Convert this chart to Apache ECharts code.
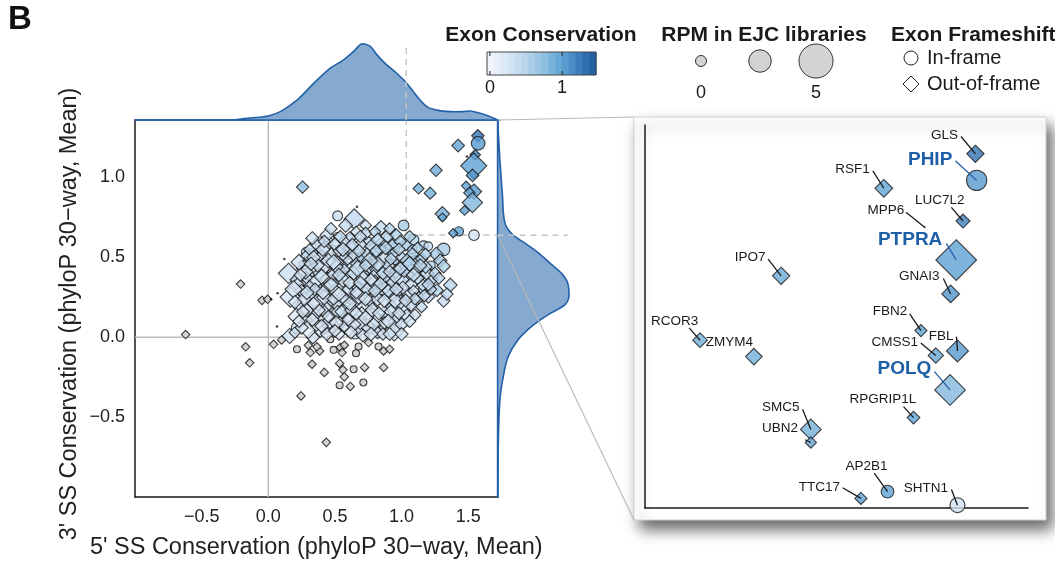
<!DOCTYPE html>
<html><head><meta charset="utf-8">
<script src="https://cdn.jsdelivr.net/npm/echarts@6/dist/echarts.min.js"></script>
<style>html,body{margin:0;padding:0;background:#fff}#c{width:1055px;height:565px}</style>
</head><body><div id="c"></div>
<script>
// ---------------- DATA ----------------
const xAxisRange = [-1.0, 1.72];
const yAxisRange = [-1.0, 1.36];
const zoomBox = { x: 1.035, y: 0.64 };
const insetRange = { x: [1.038, 1.657], y: [0.634, 1.312] };
const consRange = [-0.05, 1.5];
const consColors = ['#f5f8fd','#dce9f6','#bdd7ed','#93c2e1','#62a4d4','#3a7dbd','#1a5497'];
const consLegendTicks = [0, 1];
const rpmLegend = [0, 2.5, 5];
const rpmLegendLabels = ['0', '', '5'];
const xTitle = "5' SS Conservation (phyloP 30\u2212way, Mean)";
const yTitle = "3' SS Conservation (phyloP 30\u2212way, Mean)";

// highlighted exons: [gene, 5'SS, 3'SS, RPM, exon conservation, frame]
const highlightExons = [
  ['GLS',      1.572, 1.261, 1.25, 1.30, 'out'],
  ['PHIP',     1.574, 1.214, 2.92, 1.05, 'in'],
  ['RSF1',     1.424, 1.200, 1.32, 0.98, 'out'],
  ['LUC7L2',   1.552, 1.142, 0.71, 1.22, 'out'],
  ['MPP6',     1.490, 1.131, null, null, 'na'],
  ['PTPRA',    1.541, 1.073, 5.12, 1.00, 'out'],
  ['GNAI3',    1.532, 1.013, 1.32, 1.08, 'out'],
  ['IPO7',     1.258, 1.045, 1.25, 0.92, 'out'],
  ['FBN2',     1.484, 0.948, 0.38, 1.00, 'out'],
  ['FBL',      1.543, 0.912, 2.03, 1.05, 'out'],
  ['CMSS1',    1.508, 0.904, 0.92, 0.95, 'out'],
  ['RCOR3',    1.127, 0.931, 0.82, 0.90, 'out'],
  ['ZMYM4',    1.214, 0.902, 1.15, 0.90, 'out'],
  ['POLQ',     1.531, 0.843, 3.47, 0.82, 'out'],
  ['RPGRIP1L', 1.472, 0.794, 0.49, 1.00, 'out'],
  ['SMC5',     1.306, 0.773, 1.82, 0.88, 'out'],
  ['UBN2',     1.306, 0.750, 0.26, 0.95, 'out'],
  ['AP2B1',    1.430, 0.663, 1.23, 1.00, 'in'],
  ['TTC17',    1.387, 0.651, 0.38, 1.00, 'out'],
  ['SHTN1',    1.543, 0.639, 1.74, 0.30, 'in']
];
const keyGenes = ['PHIP', 'PTPRA', 'POLQ'];

// in-frame exons: [5'SS, 3'SS, RPM, conservation]
const cloudInFrame = [
  [0.52,0.76,1.5,0.35],[0.52,0.63,0.8,0.3],[1.015,0.70,1.8,0.6],[1.09,0.61,1.8,0.55],[1.165,0.575,1.2,0.5],
  [1.2,0.57,1.0,0.4],[1.315,0.55,2.5,0.6],[0.283,0.533,1.3,0.5],[0.34,0.533,0.8,0.4],[0.215,0.06,2.0,0.25],
  [0.45,0.40,2.2,0.2],[0.62,0.30,2.8,0.15],[0.70,0.45,1.5,0.3],[0.80,0.50,2.0,0.35],[0.88,0.42,1.7,0.3],
  [0.95,0.56,1.4,0.4],[0.97,0.30,2.3,0.3],[1.05,0.38,1.6,0.5],[1.12,0.26,1.2,0.35],[0.40,0.18,1.6,0.2],
  [0.55,0.12,2.2,0.2],[0.72,0.10,1.5,0.3],[0.86,0.15,2.0,0.25],[0.30,0.30,1.0,0.3],[0.60,0.52,1.2,0.45],
  [0.75,0.60,1.0,0.4],[0.90,0.62,1.2,0.5],[0.38,0.60,1.3,0.35],[0.48,0.55,0.9,0.3],[0.66,0.20,1.8,0.25],
  [0.80,0.25,2.4,0.2],[1.00,0.45,2.2,0.45],[1.10,0.48,1.5,0.5],[0.53,0.30,1.1,0.3],[0.35,0.42,2.0,0.2],
  [0.25,0.22,1.0,0.25],[0.42,0.05,1.2,0.2],[0.65,0.02,1.5,0.25],[0.92,0.05,1.0,0.3],[1.18,0.36,1.3,0.5],
  [0.58,0.44,1.7,0.35],[0.85,0.35,1.0,0.3],[0.74,0.36,2.6,0.25],[0.47,0.25,1.4,0.25],[1.02,0.18,1.8,0.3],
  [0.62,0.62,1.0,0.4],[0.95,0.48,0.8,0.45],[1.22,0.45,1.0,0.55],[0.32,0.08,0.8,0.2],[0.77,0.05,1.3,0.3],
  [0.37,0.26,1.5,0.25],[0.50,0.20,1.9,0.25],[0.61,0.40,1.5,0.3],[0.78,0.41,2.0,0.35],[0.92,0.36,1.4,0.4],
  [0.45,0.60,1.1,0.35],[0.69,0.50,1.8,0.45],[0.84,0.56,1.5,0.45],[0.27,0.35,1.2,0.3],[0.33,0.15,1.4,0.25],
  [0.58,0.08,1.3,0.25],[0.83,0.07,1.6,0.3],[1.08,0.55,1.3,0.55],[0.97,0.10,1.2,0.3],[0.74,0.20,1.6,0.25],
  [1.16,0.30,1.1,0.4]
];

// out-of-frame exons: [5'SS, 3'SS, RPM, conservation]
const cloudOutFrame = [
  [0.645,0.74,3.5,0.45],[0.845,0.685,1.8,0.4],[0.73,0.70,1.0,0.35],[0.257,0.94,1.2,0.75],
  [0.44,0.64,1.6,0.3],[0.61,0.62,1.4,0.35],[0.73,0.65,1.3,0.45],[0.89,0.63,1.5,0.4],[0.80,0.66,1.0,0.5],[0.96,0.64,1.2,0.55],[0.66,0.66,0.9,0.3],
  [0.36,0.58,1.2,0.3],[0.50,0.58,1.6,0.35],[0.57,0.60,1.0,0.3],[0.69,0.58,1.5,0.4],[0.78,0.57,2.0,0.5],[0.85,0.59,1.2,0.45],[0.93,0.57,1.8,0.55],[1.03,0.58,1.3,0.6],[1.12,0.56,1.0,0.55],[1.26,0.52,1.7,0.6],[0.43,0.56,1.3,0.3],[0.62,0.56,1.9,0.4],
  [0.29,0.51,1.3,0.35],[0.40,0.50,2.0,0.35],[0.47,0.52,1.5,0.3],[0.55,0.50,2.5,0.4],[0.64,0.51,1.3,0.35],[0.71,0.49,2.2,0.55],[0.79,0.52,1.6,0.45],[0.87,0.50,2.0,0.4],[0.94,0.52,1.4,0.5],[1.00,0.50,1.1,0.45],[1.08,0.52,1.4,0.55],[1.15,0.49,1.2,0.6],[1.29,0.48,1.5,0.6],[1.315,0.445,1.5,0.55],[0.35,0.47,1.2,0.3],[0.60,0.47,1.6,0.35],
  [0.152,0.40,3.5,0.35],[0.215,0.36,1.6,0.4],[0.26,0.43,1.4,0.35],[0.33,0.42,1.8,0.3],[0.41,0.44,2.8,0.25],[0.49,0.41,1.4,0.3],[0.54,0.45,2.0,0.35],[0.63,0.43,2.3,0.3],[0.69,0.40,3.0,0.5],[0.76,0.44,1.6,0.4],[0.83,0.42,2.6,0.35],[0.90,0.45,1.5,0.4],[0.97,0.41,2.0,0.45],[1.04,0.44,1.8,0.35],[1.11,0.42,1.2,0.45],[1.19,0.40,1.6,0.4],[0.58,0.38,1.2,0.3],[0.79,0.38,1.5,0.35],
  [0.22,0.33,1.5,0.3],[0.29,0.37,1.2,0.35],[0.36,0.35,2.2,0.3],[0.44,0.36,1.7,0.4],[0.51,0.34,3.0,0.25],[0.59,0.33,1.6,0.4],[0.66,0.36,2.0,0.3],[0.72,0.33,1.4,0.35],[0.80,0.34,2.2,0.35],[0.87,0.37,1.8,0.45],[0.93,0.34,1.5,0.4],[1.00,0.36,2.0,0.35],[1.07,0.33,1.5,0.4],[1.16,0.325,1.2,0.4],[1.365,0.327,1.6,0.5],[1.23,0.36,1.0,0.45],[0.48,0.39,1.0,0.3],
  [0.165,0.252,3.5,0.25],[0.25,0.29,1.4,0.3],[0.32,0.26,2.0,0.35],[0.39,0.29,1.5,0.25],[0.46,0.27,2.4,0.3],[0.55,0.28,4.5,0.2],[0.63,0.26,1.8,0.35],[0.70,0.29,2.0,0.3],[0.77,0.27,1.5,0.25],[0.84,0.29,2.3,0.35],[0.91,0.26,1.7,0.3],[0.98,0.28,1.2,0.4],[1.05,0.27,1.6,0.35],[1.13,0.248,1.3,0.3],[1.2,0.254,1.4,0.45],[1.265,0.294,1.3,0.55],[1.315,0.227,1.3,0.4],[0.60,0.30,1.2,0.3],
  [0.24,0.186,1.7,0.3],[0.31,0.20,1.2,0.25],[0.37,0.22,2.6,0.2],[0.44,0.19,1.6,0.3],[0.51,0.21,1.8,0.35],[0.58,0.18,2.2,0.25],[0.65,0.22,1.5,0.3],[0.72,0.19,2.4,0.2],[0.79,0.21,1.3,0.3],[0.85,0.20,4.0,0.2],[0.93,0.19,1.5,0.35],[0.99,0.22,1.8,0.3],[1.07,0.20,1.2,0.35],[1.15,0.19,1.0,0.4],[0.47,0.23,1.0,0.25],
  [0.28,0.12,1.5,0.25],[0.35,0.14,1.8,0.3],[0.41,0.11,1.2,0.2],[0.48,0.14,2.0,0.25],[0.55,0.10,1.4,0.3],[0.61,0.13,2.8,0.2],[0.68,0.12,1.6,0.25],[0.75,0.14,1.3,0.3],[0.81,0.11,2.0,0.25],[0.89,0.13,1.5,0.3],[0.96,0.12,1.3,0.35],[1.04,0.133,1.7,0.3],[0.52,0.16,1.3,0.3],
  [0.16,0.008,2.0,0.25],[0.335,0.0,1.5,0.25],[0.30,0.05,3.0,0.15],[0.39,0.04,1.3,0.2],[0.47,0.06,1.5,0.25],[0.53,0.02,1.2,0.2],[0.60,0.05,2.0,0.2],[0.68,0.04,1.3,0.3],[0.74,0.07,1.8,0.25],[0.82,0.03,1.2,0.3],[0.88,0.06,1.5,0.25],[0.945,0.04,3.5,0.3],[0.20,0.03,1.0,0.3],
  [0.57,0.42,1.3,0.35],[0.66,0.46,1.1,0.4],[0.74,0.52,1.3,0.45],[0.82,0.46,1.9,0.4],[0.53,0.54,1.1,0.3],[0.44,0.31,1.3,0.3],[0.38,0.40,1.1,0.25],[0.62,0.37,3.2,0.3],[0.88,0.31,1.2,0.35],[0.95,0.23,2.2,0.3],
  [0.70,0.15,1.4,0.25],[0.31,0.32,1.0,0.3],[0.27,0.46,1.1,0.35],[0.52,0.47,1.2,0.3],[0.67,0.31,1.1,0.3],[0.76,0.23,1.3,0.25],[0.84,0.55,1.0,0.5],[1.02,0.41,1.0,0.5],[1.09,0.29,1.0,0.35],[0.42,0.16,1.1,0.25],
  [0.33,0.62,1.4,0.3],[0.47,0.68,1.2,0.35],[0.58,0.70,1.6,0.4],[0.91,0.68,1.0,0.5],[1.06,0.63,1.2,0.55],
  [0.23,0.47,2.2,0.3],[0.31,0.55,1.0,0.4],[0.45,0.48,1.8,0.3],[0.51,0.44,1.6,0.35],[0.68,0.54,1.4,0.4],[0.76,0.48,2.3,0.45],[0.92,0.49,1.2,0.45],[1.04,0.48,1.6,0.5],[1.18,0.52,1.1,0.55],
  [0.19,0.30,2.6,0.25],[0.28,0.41,1.9,0.3],[0.37,0.45,1.5,0.3],[0.56,0.36,2.0,0.3],[0.64,0.40,1.6,0.35],[0.71,0.37,1.9,0.3],[0.86,0.40,1.4,0.4],[0.95,0.38,1.6,0.35],[1.12,0.37,1.3,0.45],[1.25,0.40,1.2,0.5],
  [0.27,0.24,1.8,0.25],[0.35,0.30,1.3,0.3],[0.42,0.25,2.0,0.25],[0.50,0.29,1.6,0.3],[0.57,0.24,1.4,0.35],[0.68,0.26,2.6,0.3],[0.74,0.30,1.5,0.35],[0.82,0.24,1.8,0.3],[0.90,0.29,1.4,0.4],[1.01,0.31,1.5,0.35],[1.10,0.24,1.2,0.4],[1.22,0.30,1.0,0.45],
  [0.21,0.13,2.4,0.2],[0.29,0.17,1.6,0.25],[0.38,0.17,1.3,0.25],[0.46,0.10,1.9,0.2],[0.55,0.16,1.5,0.3],[0.63,0.17,2.0,0.25],[0.69,0.09,1.5,0.25],[0.78,0.17,1.9,0.3],[0.87,0.09,1.3,0.3],[0.92,0.16,1.6,0.3],[1.00,0.08,1.4,0.3],[1.10,0.14,1.1,0.35],
  [0.25,0.06,1.4,0.2],[0.36,0.08,1.6,0.25],[0.44,0.02,1.4,0.25],[0.57,0.07,1.2,0.25],[0.64,0.08,1.8,0.2],[0.71,0.01,1.3,0.25],[0.79,0.08,1.5,0.3],[0.86,0.02,1.2,0.25],[1.00,0.02,1.4,0.3],
  [0.41,0.55,1.7,0.35],[0.54,0.63,1.3,0.4],[0.69,0.63,1.2,0.4],[0.82,0.61,1.5,0.45],[0.99,0.60,1.2,0.55],[1.18,0.44,1.4,0.5],[1.28,0.37,1.1,0.5],[1.34,0.27,1.2,0.45],
  [0.34,0.50,1.6,0.3],[0.42,0.60,1.2,0.35],[0.49,0.47,2.1,0.3],[0.56,0.55,1.7,0.4],[0.63,0.58,1.3,0.4],[0.67,0.43,2.4,0.35],[0.73,0.45,1.2,0.4],[0.81,0.54,1.4,0.45],[0.88,0.56,1.6,0.5],[0.98,0.55,1.3,0.5],[1.06,0.46,1.9,0.5],[1.14,0.45,1.4,0.5],
  [0.24,0.39,1.3,0.3],[0.32,0.46,1.5,0.35],[0.40,0.38,2.0,0.3],[0.47,0.33,1.7,0.3],[0.53,0.39,1.5,0.35],[0.61,0.34,1.4,0.3],[0.69,0.34,1.6,0.35],[0.77,0.36,1.3,0.3],[0.84,0.33,1.9,0.4],[0.91,0.41,1.3,0.4],[0.99,0.43,1.5,0.45],[1.09,0.39,1.7,0.4],[1.20,0.33,1.3,0.45],
  [0.20,0.22,1.5,0.25],[0.29,0.28,1.7,0.3],[0.34,0.21,1.4,0.25],[0.41,0.28,1.6,0.3],[0.49,0.24,1.3,0.3],[0.53,0.27,1.8,0.25],[0.61,0.21,1.6,0.3],[0.66,0.28,1.3,0.3],[0.73,0.24,1.7,0.3],[0.80,0.29,1.4,0.35],[0.87,0.23,1.6,0.3],[0.96,0.30,1.5,0.35],[1.03,0.23,1.4,0.35],[1.17,0.26,1.2,0.4],
  [0.26,0.16,1.3,0.25],[0.33,0.11,1.5,0.2],[0.45,0.13,1.2,0.25],[0.51,0.09,1.7,0.25],[0.60,0.11,1.3,0.25],[0.66,0.15,1.5,0.3],[0.73,0.12,1.9,0.25],[0.83,0.15,1.4,0.3],[0.90,0.10,1.7,0.25],[0.98,0.15,1.3,0.3],[1.06,0.10,1.2,0.3],
  [0.23,0.10,1.2,0.2],[0.40,0.07,1.5,0.2],[0.50,0.04,1.3,0.25],[0.62,0.03,1.4,0.2],[0.77,0.02,1.6,0.25],[0.91,0.02,1.3,0.3]
];

// exons without conservation score: [5'SS, 3'SS]
const naInFrame = [
  [0.215,-0.075],[0.465,-0.0125],[0.49,-0.079],[0.658,-0.10],[0.677,-0.058],[0.827,-0.058],
  [0.64,-0.20],[0.535,-0.30],[0.713,-0.283]
];
const naOutFrame = [
  [0.04,-0.044],[0.10,-0.017],[0.30,-0.05],[0.315,-0.096],[0.385,-0.086],[0.365,-0.06],[0.54,-0.064],
  [0.553,-0.096],[0.57,-0.05],[0.752,-0.033],[0.865,-0.086],[0.91,-0.075],[0.328,-0.169],[0.42,-0.22],
  [0.535,-0.164],[0.56,-0.204],[0.57,-0.248],[0.722,-0.189],[0.865,-0.189],[0.615,-0.308],[0.245,-0.367],
  [0.435,-0.658],[-0.62,0.017],[-0.208,0.333],[-0.047,0.231],[-0.005,0.2375],[-0.17,-0.06],[-0.14,-0.16],
  [0.51,0.04]
];
// exons without RPM / frame: [5'SS, 3'SS]
const naDots = [
  [0.12,0.49],[0.265,0.477],[0.07,0.275],[0.02,0.2375],[0.065,0.067],[0.665,0.817]
];

// marginal densities (relative)
const densityTopX = [-1.0,-0.285,-0.16,-0.035,0.0,0.09,0.215,0.34,0.465,0.565,0.64,0.69,0.715,0.765,0.815,0.89,0.965,1.04,1.115,1.19,1.265,1.365,1.465,1.515,1.59,1.665,1.72];
const densityTopD = [0,0,0.022,0.043,0.053,0.11,0.26,0.48,0.68,0.79,0.90,0.99,1.0,0.965,0.855,0.72,0.61,0.48,0.31,0.175,0.13,0.11,0.11,0.118,0.088,0.043,0];
const densityRightY = [1.36,1.11,0.90,0.72,0.65,0.59,0.53,0.456,0.40,0.34,0.26,0.206,0.144,0.07,-0.0125,-0.117,-0.242,-0.39,-0.66,-1.0];
const densityRightD = [0,0.032,0.066,0.10,0.196,0.383,0.57,0.757,0.898,0.982,1.0,0.944,0.711,0.477,0.29,0.15,0.08,0.032,0.01,0];

// ---------------- LAYOUT / STYLE ----------------
const FONT = '"Liberation Sans", Arial, Helvetica, sans-serif';
const insetLabelOffsets = {
  GLS:{text:[-31,-19], line:[-14.4,-17.3]},
  PHIP:{text:[-46.5,-21], line:[-21.3,-19.6]},
  RSF1:{text:[-31.3,-18.7], line:[-11,-17.3]},
  LUC7L2:{text:[-23.2,-21], line:[-11.7,-13.7]},
  MPP6:{text:[-38.7,-16.7], line:[-18.7,-15]},
  PTPRA:{text:[-46.1,-20.7], line:[-10,-16.7]},
  GNAI3:{text:[-31.3,-18], line:[-7.3,-15.4]},
  IPO7:{text:[-31,-19], line:[-13,-16.7]},
  FBN2:{text:[-31,-19], line:[-11.3,-16.7]},
  FBL:{text:[-16.3,-14.3], line:[-1,-14.3]},
  CMSS1:{text:[-41,-13.4], line:[-15,-12.4]},
  RCOR3:{text:[-25.5,-19.3], line:[-11,-12.3]},
  ZMYM4:{text:[-24.6,-14.4], line:null},
  POLQ:{text:[-45.6,-20.7], line:[-15.6,-18.3]},
  RPGRIP1L:{text:[-30.7,-18.7], line:[-10,-11]},
  SMC5:{text:[-30,-22.6], line:[-8.3,-20.3]},
  UBN2:{text:[-30.8,-14.4], line:[-5.6,-2.7]},
  AP2B1:{text:[-21,-25.7], line:[-13.3,-18.4]},
  TTC17:{text:[-41.6,-11.6], line:[-18.3,-10.6]},
  SHTN1:{text:[-31.5,-17.3], line:[-6,-15.7]}
};

// marker size from RPM (main panel / zoomed inset)
function sizeMain(rpm, shape) { return (6 + 2.6 * rpm) * (shape === 'diamond' ? 1.35 : 1); }
function sizeInset(rpm, shape) { return (4.5 + 2.8 * rpm) * (shape === 'diamond' ? 1.35 : 1) * 1.6; }

function hexToRgb(h){ return [parseInt(h.substr(1,2),16),parseInt(h.substr(3,2),16),parseInt(h.substr(5,2),16)]; }
function consColor(v){
  let t = (v - consRange[0]) / (consRange[1] - consRange[0]);
  t = Math.max(0, Math.min(1, t));
  const n = consColors.length - 1;
  const i = Math.min(n - 1, Math.floor(t * n));
  const f = t * n - i;
  const a = hexToRgb(consColors[i]), b = hexToRgb(consColors[i+1]);
  return 'rgb(' + a.map((c,k)=>Math.round(c + (b[k]-c)*f)).join(',') + ')';
}
const fmt = v => (Math.abs(v) < 1e-9 ? '0.0' : v.toFixed(1)).replace('-', '\u2212');

const border = { borderColor: '#111', borderWidth: 1.1 };

function hlItems(sizeFn) {
  return highlightExons.filter(g => g[3] !== null).map(g => {
    const shape = g[5] === 'in' ? 'circle' : 'diamond';
    return { name: g[0], value: [g[1], g[2], g[3], g[4]], symbol: shape, symbolSize: sizeFn(g[3], shape) };
  });
}
const hlDots = highlightExons.filter(g => g[3] === null).map(g => [g[1], g[2]]);

function densityPolygon(pointsFn) {
  return function(params, api) {
    if (params.dataIndex !== 0) return null;
    const pts = pointsFn().map(p => api.coord(p));
    let mn = [Infinity, Infinity], mx = [-Infinity, -Infinity];
    pts.forEach(p => { mn = [Math.min(mn[0], p[0]), Math.min(mn[1], p[1])]; mx = [Math.max(mx[0], p[0]), Math.max(mx[1], p[1])]; });
    return { type: 'polygon', shape: { points: pts, smooth: 0.35, smoothConstraint: [mn, mx] },
      style: { fill: '#86a9cf', stroke: '#2260a8', lineWidth: 1.6 } };
  };
}

const dashed = { color: '#c4c4c4', width: 1.5, type: [6, 5] };

const option = {
  animation: false,
  backgroundColor: '#fff',
  textStyle: { fontFamily: FONT },
  grid: [
    { left: 135, top: 120, width: 362.6, height: 377.6 },   // main
    { left: 135, top: 40, width: 362.6, height: 80 },       // top density
    { left: 497.6, top: 120, width: 75, height: 377.6 },    // right density
    { left: 645, top: 125, width: 383, height: 383 }        // inset
  ],
  xAxis: [
    { gridIndex: 0, type: 'value', min: xAxisRange[0], max: xAxisRange[1], interval: 0.5,
      axisLine: { onZero: false, lineStyle: { color: '#1a1a1a', width: 1.5 } },
      axisTick: { show: false }, splitLine: { show: false },
      axisLabel: { fontSize: 18, color: '#222', margin: 11, showMinLabel: false, showMaxLabel: false, formatter: fmt, fontFamily: FONT },
      name: xTitle, nameLocation: 'middle', nameGap: 39,
      nameTextStyle: { fontSize: 23.5, color: '#222', fontFamily: FONT } },
    { gridIndex: 1, type: 'value', min: xAxisRange[0], max: xAxisRange[1],
      axisLine: { onZero: false, lineStyle: { color: '#2260a8', width: 1.6 } },
      axisTick: { show: false }, axisLabel: { show: false }, splitLine: { show: false } },
    { gridIndex: 2, type: 'value', min: 0, max: 1.05, show: false },
    { gridIndex: 3, type: 'value', min: insetRange.x[0], max: insetRange.x[1],
      axisLine: { onZero: false, lineStyle: { color: '#1a1a1a', width: 1.5 } },
      axisTick: { show: false }, axisLabel: { show: false }, splitLine: { show: false } }
  ],
  yAxis: [
    { gridIndex: 0, type: 'value', min: yAxisRange[0], max: yAxisRange[1], interval: 0.5,
      axisLine: { onZero: false, lineStyle: { color: '#1a1a1a', width: 1.5 } },
      axisTick: { show: false }, splitLine: { show: false },
      axisLabel: { fontSize: 18, color: '#222', margin: 10, showMinLabel: false, showMaxLabel: false, formatter: fmt, fontFamily: FONT } },
    { gridIndex: 1, type: 'value', min: 0, max: 1.05, show: false },
    { gridIndex: 2, type: 'value', min: yAxisRange[0], max: yAxisRange[1],
      axisLine: { onZero: false, lineStyle: { color: '#2260a8', width: 1.6 } },
      axisTick: { show: false }, axisLabel: { show: false }, splitLine: { show: false } },
    { gridIndex: 3, type: 'value', min: insetRange.y[0], max: insetRange.y[1],
      axisLine: { onZero: false, lineStyle: { color: '#1a1a1a', width: 1.5 } },
      axisTick: { show: false }, axisLabel: { show: false }, splitLine: { show: false } }
  ],
  visualMap: [{
    show: false, type: 'continuous', min: consRange[0], max: consRange[1], dimension: 3,
    seriesIndex: [6, 7, 8, 14], inRange: { color: consColors }
  }],
  series: [
    // 0,1 zero lines
    { type: 'line', xAxisIndex: 0, yAxisIndex: 0, data: [[0, yAxisRange[0]], [0, yAxisRange[1]]], symbol: 'none', silent: true,
      lineStyle: { color: '#bdbdbd', width: 1.5 }, z: 1 },
    { type: 'line', xAxisIndex: 0, yAxisIndex: 0, data: [[xAxisRange[0], 0], [xAxisRange[1], 0]], symbol: 'none', silent: true,
      lineStyle: { color: '#bdbdbd', width: 1.5 }, z: 1 },
    // 2,3 dashed zoom box in main
    { type: 'line', xAxisIndex: 0, yAxisIndex: 0, data: [[zoomBox.x, zoomBox.y], [zoomBox.x, yAxisRange[1]]], symbol: 'none', silent: true,
      lineStyle: dashed, z: 1 },
    { type: 'line', xAxisIndex: 0, yAxisIndex: 0, data: [[zoomBox.x, zoomBox.y], [xAxisRange[1], zoomBox.y]], symbol: 'none', silent: true,
      lineStyle: dashed, z: 1 },
    // 4,5 NA conservation
    { type: 'scatter', xAxisIndex: 0, yAxisIndex: 0, data: naInFrame, symbol: 'circle', symbolSize: 7,
      itemStyle: Object.assign({ color: '#c9c9c9' }, border), z: 2 },
    { type: 'scatter', xAxisIndex: 0, yAxisIndex: 0, data: naOutFrame, symbol: 'diamond', symbolSize: 8.5,
      itemStyle: Object.assign({ color: '#c9c9c9' }, border), z: 2 },
    // 6 in-frame cloud
    { type: 'scatter', xAxisIndex: 0, yAxisIndex: 0, data: cloudInFrame, symbol: 'circle',
      symbolSize: v => sizeMain(v[2], 'circle'), itemStyle: Object.assign({}, border), z: 3 },
    // 7 out-of-frame cloud
    { type: 'scatter', xAxisIndex: 0, yAxisIndex: 0, data: cloudOutFrame, symbol: 'diamond',
      symbolSize: v => sizeMain(v[2], 'diamond'), itemStyle: Object.assign({}, border), z: 3 },
    // 8 highlighted exons in main
    { type: 'scatter', xAxisIndex: 0, yAxisIndex: 0, data: hlItems(sizeMain), itemStyle: Object.assign({}, border), z: 4 },
    // 9 dots
    { type: 'scatter', xAxisIndex: 0, yAxisIndex: 0, data: naDots.concat(hlDots), symbol: 'circle', symbolSize: 2.5,
      itemStyle: { color: '#111' }, z: 4 },
    // 10 top density
    { type: 'custom', xAxisIndex: 1, yAxisIndex: 1, data: densityTopX.map((x, i) => [x, densityTopD[i]]),
      renderItem: densityPolygon(() => [[densityTopX[0], 0]].concat(densityTopX.map((x, i) => [x, densityTopD[i]])).concat([[densityTopX[densityTopX.length-1], 0]])),
      silent: true, clip: false, z: 2 },
    // 11 dashed in top density
    { type: 'line', xAxisIndex: 1, yAxisIndex: 1, data: [[zoomBox.x, 0], [zoomBox.x, 0.985]], symbol: 'none', silent: true,
      lineStyle: dashed, z: 3 },
    // 12 right density
    { type: 'custom', xAxisIndex: 2, yAxisIndex: 2, data: densityRightY.map((y, i) => [densityRightD[i], y]),
      renderItem: densityPolygon(() => [[0, densityRightY[0]]].concat(densityRightY.map((y, i) => [densityRightD[i], y])).concat([[0, densityRightY[densityRightY.length-1]]])),
      silent: true, clip: false, z: 2 },
    // 13 dashed in right density
    { type: 'line', xAxisIndex: 2, yAxisIndex: 2, data: [[0, zoomBox.y], [0.98, zoomBox.y]], symbol: 'none', silent: true,
      lineStyle: dashed, z: 3 },
    // 14 inset points
    { type: 'scatter', xAxisIndex: 3, yAxisIndex: 3, data: hlItems(sizeInset), clip: true,
      itemStyle: { borderColor: '#151515', borderWidth: 1.1 }, z: 5 },
    // 15 inset dot (no RPM)
    { type: 'scatter', xAxisIndex: 3, yAxisIndex: 3, data: hlDots, symbol: 'circle', symbolSize: 2,
      itemStyle: { color: '#111' }, z: 5 },
    // 16 inset labels
    { type: 'custom', xAxisIndex: 3, yAxisIndex: 3, data: highlightExons.map(g => [g[1], g[2]]), clip: false, silent: true, z: 6,
      renderItem: function(params, api) {
        const g = highlightExons[params.dataIndex];
        const p = api.coord([g[1], g[2]]);
        const o = insetLabelOffsets[g[0]];
        const bold = keyGenes.indexOf(g[0]) >= 0;
        const col = bold ? '#1f5fa8' : '#1a1a1a';
        const children = [];
        if (o.line) children.push({ type: 'line', shape: { x1: p[0] + o.line[0], y1: p[1] + o.line[1], x2: p[0], y2: p[1] },
          style: { stroke: col, lineWidth: 1.3 } });
        children.push({ type: 'text', x: p[0] + o.text[0], y: p[1] + o.text[1],
          style: { text: g[0], align: 'center', verticalAlign: 'middle',
            font: (bold ? 'bold 19px ' : '13.5px ') + FONT, fill: col } });
        return { type: 'group', children: children };
      } }
  ]
};

const chart = echarts.init(document.getElementById('c'), null, { renderer: 'canvas' });
chart.setOption(option);

// ---------- graphics: legends, inset box, connectors ----------
const pTop = chart.convertToPixel({ gridIndex: 0 }, [xAxisRange[1], yAxisRange[1]]);
const pBot = chart.convertToPixel({ gridIndex: 0 }, [xAxisRange[1], zoomBox.y]);
const box = { x: 634, y: 117, w: 412, h: 403 };

function txt(text, x, y, size, opts) {
  opts = opts || {};
  return { type: 'text', x: x, y: y, z: 20, silent: true, rotation: opts.rotation || 0,
    style: { text: text, font: (opts.bold ? 'bold ' : '') + size + 'px ' + FONT, fill: opts.fill || '#1a1a1a',
      align: opts.align || 'center', verticalAlign: 'middle' } };
}

const g = [];
g.push({ type: 'rect', z: -10, silent: true, shape: { x: box.x, y: box.y, width: box.w, height: box.h },
  style: { fill: '#fff', stroke: '#d2d2d2', lineWidth: 1, shadowBlur: 14, shadowOffsetX: 6, shadowOffsetY: 9, shadowColor: 'rgba(0,0,0,0.6)' } });
g.push({ type: 'line', z: 10, silent: true, shape: { x1: pTop[0], y1: pTop[1], x2: box.x, y2: box.y }, style: { stroke: '#b8b8b8', lineWidth: 1.1 } });
g.push({ type: 'line', z: 10, silent: true, shape: { x1: pBot[0], y1: pBot[1], x2: box.x, y2: box.y + box.h }, style: { stroke: '#b8b8b8', lineWidth: 1.1 } });
g.push(txt('B', 20, 20, 33, { bold: true, fill: '#111' }));
g.push(txt(yTitle, 70, 314, 23.5, { rotation: Math.PI / 2, fill: '#222' }));

// colour legend
g.push(txt('Exon Conservation', 541, 35, 21, { bold: true }));
const cb = { x: 487, y: 52, w: 109, h: 23, lo: -0.04, hi: 1.47, steps: 16 };
for (let i = 0; i < cb.steps; i++) {
  const v = cb.lo + (i + 0.5) / cb.steps * (cb.hi - cb.lo);
  g.push({ type: 'rect', z: 20, silent: true, shape: { x: cb.x + i * cb.w / cb.steps, y: cb.y, width: cb.w / cb.steps + 0.6, height: cb.h },
    style: { fill: consColor(v) } });
}
g.push({ type: 'rect', z: 21, silent: true, shape: { x: cb.x, y: cb.y, width: cb.w, height: cb.h }, style: { fill: 'none', stroke: '#444', lineWidth: 1 } });
consLegendTicks.forEach(t => {
  const x = cb.x + (t - cb.lo) / (cb.hi - cb.lo) * cb.w;
  g.push({ type: 'line', z: 21, silent: true, shape: { x1: x, y1: cb.y, x2: x, y2: cb.y + 4 }, style: { stroke: '#222', lineWidth: 1 } });
  g.push({ type: 'line', z: 21, silent: true, shape: { x1: x, y1: cb.y + cb.h - 4, x2: x, y2: cb.y + cb.h }, style: { stroke: '#222', lineWidth: 1 } });
  g.push(txt(String(t), x, 88, 18));
});

// size legend
g.push(txt('RPM in EJC libraries', 764, 35, 21, { bold: true }));
const sizeLegendX = [701, 760, 816];
rpmLegend.forEach((r, i) => {
  const rad = (11 + 4.6 * r) / 2;
  g.push({ type: 'circle', z: 20, silent: true, shape: { cx: sizeLegendX[i], cy: 61, r: rad }, style: { fill: '#d3d3d3', stroke: '#333', lineWidth: 1 } });
  if (rpmLegendLabels[i]) g.push(txt(rpmLegendLabels[i], sizeLegendX[i], 93, 18));
});

// frame legend
g.push(txt('Exon Frameshift', 891, 35, 21, { bold: true, align: 'left' }));
g.push({ type: 'circle', z: 20, silent: true, shape: { cx: 911, cy: 58, r: 7 }, style: { fill: '#fff', stroke: '#222', lineWidth: 1 } });
g.push({ type: 'polygon', z: 20, silent: true, shape: { points: [[911, 76], [919, 84], [911, 92], [903, 84]] }, style: { fill: '#fff', stroke: '#222', lineWidth: 1 } });
g.push(txt('In-frame', 927, 58, 20, { align: 'left' }));
g.push(txt('Out-of-frame', 927, 84, 20, { align: 'left' }));

chart.setOption({ graphic: { elements: g } });
</script>
</body></html>
